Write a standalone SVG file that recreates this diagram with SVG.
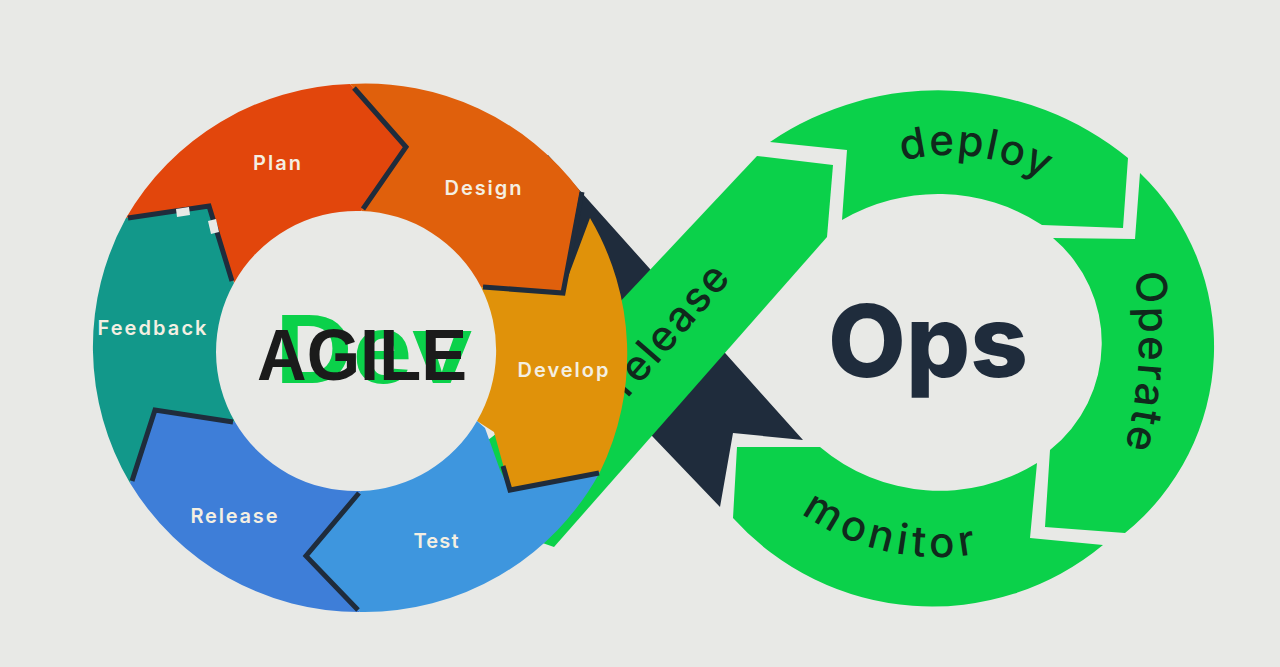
<svg xmlns="http://www.w3.org/2000/svg" width="1280" height="667" viewBox="0 0 1280 667">
<style>
.bg{fill:#e8e9e6}
.ribbon{fill:#1f2c3c}
.green{fill:#0bd14a}
.outline{fill:none;stroke:#1f2c3c;stroke-width:5;stroke-linejoin:miter}
.lbl{font-family:Inter,"Liberation Sans",sans-serif;font-weight:600;font-size:20px;fill:#f4efe2;text-anchor:middle}
.ring{font-family:Inter,"Liberation Sans",sans-serif;font-weight:500;font-size:42px;fill:#10291c}
.big{font-family:"Liberation Sans",Arial,sans-serif;font-weight:bold}
</style>
<defs>
<path id="pDeploy" d="M889.7,164.5 A195,195 0 0 1 1075.3,200.6"/>
<path id="pOperate" d="M1133,262 A450,450 0 0 1 1124,452"/>
<path id="pMonitor" d="M795,508 A230,230 0 0 0 985,552"/>
</defs>
<rect class="bg" x="0" y="0" width="1280" height="667"/>

<g id="devops-ribbon">
<path class="ribbon" d="M548,155 L803,440 L733,433 L720,507 L653,437 L440,196 Z"/>
</g>

<g id="release-band">
<path class="green" d="M757,156 L833,165 L827,237 L554,547 L430,504 Z"/>
<text class="ring" font-size="42" letter-spacing="2" text-anchor="middle" transform="translate(680,338) rotate(-49)">release</text>
</g>

<g id="ops-ring">
<g id="deploy">
<path class="green" d="M770,142 A300,300 0 0 1 1128,158 L1123,228 L1042,225 A190,190 0 0 0 842,220 L847,150 Z"/>
<text class="ring" letter-spacing="2"><textPath href="#pDeploy" startOffset="13">deploy</textPath></text>
</g>
<g id="operate">
<path class="green" d="M1140,173 A240,240 0 0 1 1125,533 L1045,527 L1050,450 A137,137 0 0 0 1053,238 L1135,239 Z"/>
<text class="ring" font-size="40" letter-spacing="2.5"><textPath href="#pOperate" startOffset="11">Operate</textPath></text>
</g>
<g id="monitor">
<path class="green" d="M1103,545 A268,268 0 0 1 733,518 L737,447 L820,447 A185,185 0 0 0 1037,463 L1030,538 Z"/>
<text class="ring" letter-spacing="5"><textPath href="#pMonitor" startOffset="8">monitor</textPath></text>
</g>
<g id="ops-title">
<text x="928" y="377" font-family="Inter,'Liberation Sans',sans-serif" font-weight="800" font-size="100" fill="#1f2c3c" text-anchor="middle" textLength="200" lengthAdjust="spacingAndGlyphs">Ops</text>
</g>
</g>

<g id="agile-wheel">
<path class="green" d="M488,440 L496,434 L504,466 L497,469 Z"/>
<g id="plan">
<path fill="#e2460c" d="M126,218 A268,268 0 0 1 350,84 L404,147 L361,211 A140,140 0 0 0 234,283 L209,206 Z"/>
</g>
<g id="design">
<path fill="#e0600c" d="M350,84 A268,268 0 0 1 580,191 L562,293 L481,287 A140,140 0 0 0 361,211 L404,147 Z"/>
</g>
<g id="develop">
<path fill="#e0920a" d="M590,218 A268,268 0 0 1 600,472 L510,490 L494,432 L477,421 A140,140 0 0 0 481,287 L562,293 Z"/>
</g>
<g id="test">
<path fill="#3e96de" d="M600,472 A268,268 0 0 1 360,612 L308,556 L361,491 A140,140 0 0 0 477,421 L485,428 L500,470 L510,490 Z"/>
</g>
<g id="release">
<path fill="#3e7ed8" d="M360,612 A268,268 0 0 1 130,483 L155,410 L235,422 A140,140 0 0 0 361,491 L308,556 Z"/>
</g>
<g id="feedback">
<path fill="#12988a" d="M130,483 A268,268 0 0 1 126,218 L209,206 L234,283 A140,140 0 0 0 235,422 L155,410 Z"/>
</g>
<g id="outlines">
<polyline class="outline" points="128,218 209,206 232,281"/>
<polyline class="outline" points="354,88 406,147 363,209"/>
<polyline class="outline" points="582,192 563,293 483,287"/>
<polyline class="outline" points="599,473 510,490 503,466"/>
<polyline class="outline" points="358,610 306,556 359,493"/>
<polyline class="outline" points="132,481 155,410 233,422"/>
<polygon class="bg" points="176,209 189,207 190,215 177,217"/>
<polygon class="bg" points="208,221 216,219 219,232 211,234"/>
</g>
<g id="wheel-labels">
<text class="lbl" x="277" y="170" textLength="48">Plan</text>
<text class="lbl" x="483" y="195" textLength="77">Design</text>
<text class="lbl" x="563" y="377" textLength="91">Develop</text>
<text class="lbl" x="436" y="548" textLength="45">Test</text>
<text class="lbl" x="234" y="523" textLength="87">Release</text>
<text class="lbl" x="152" y="335" textLength="109">Feedback</text>
</g>
<g id="center-title">
<text class="big" x="275" y="383" font-size="98" fill="#0bd14a" textLength="197" lengthAdjust="spacingAndGlyphs">Dev</text>
<text class="big" x="257" y="380" font-size="72" fill="#1b1b1b" textLength="210" lengthAdjust="spacingAndGlyphs">AGILE</text>
</g>
</g>
</svg>
